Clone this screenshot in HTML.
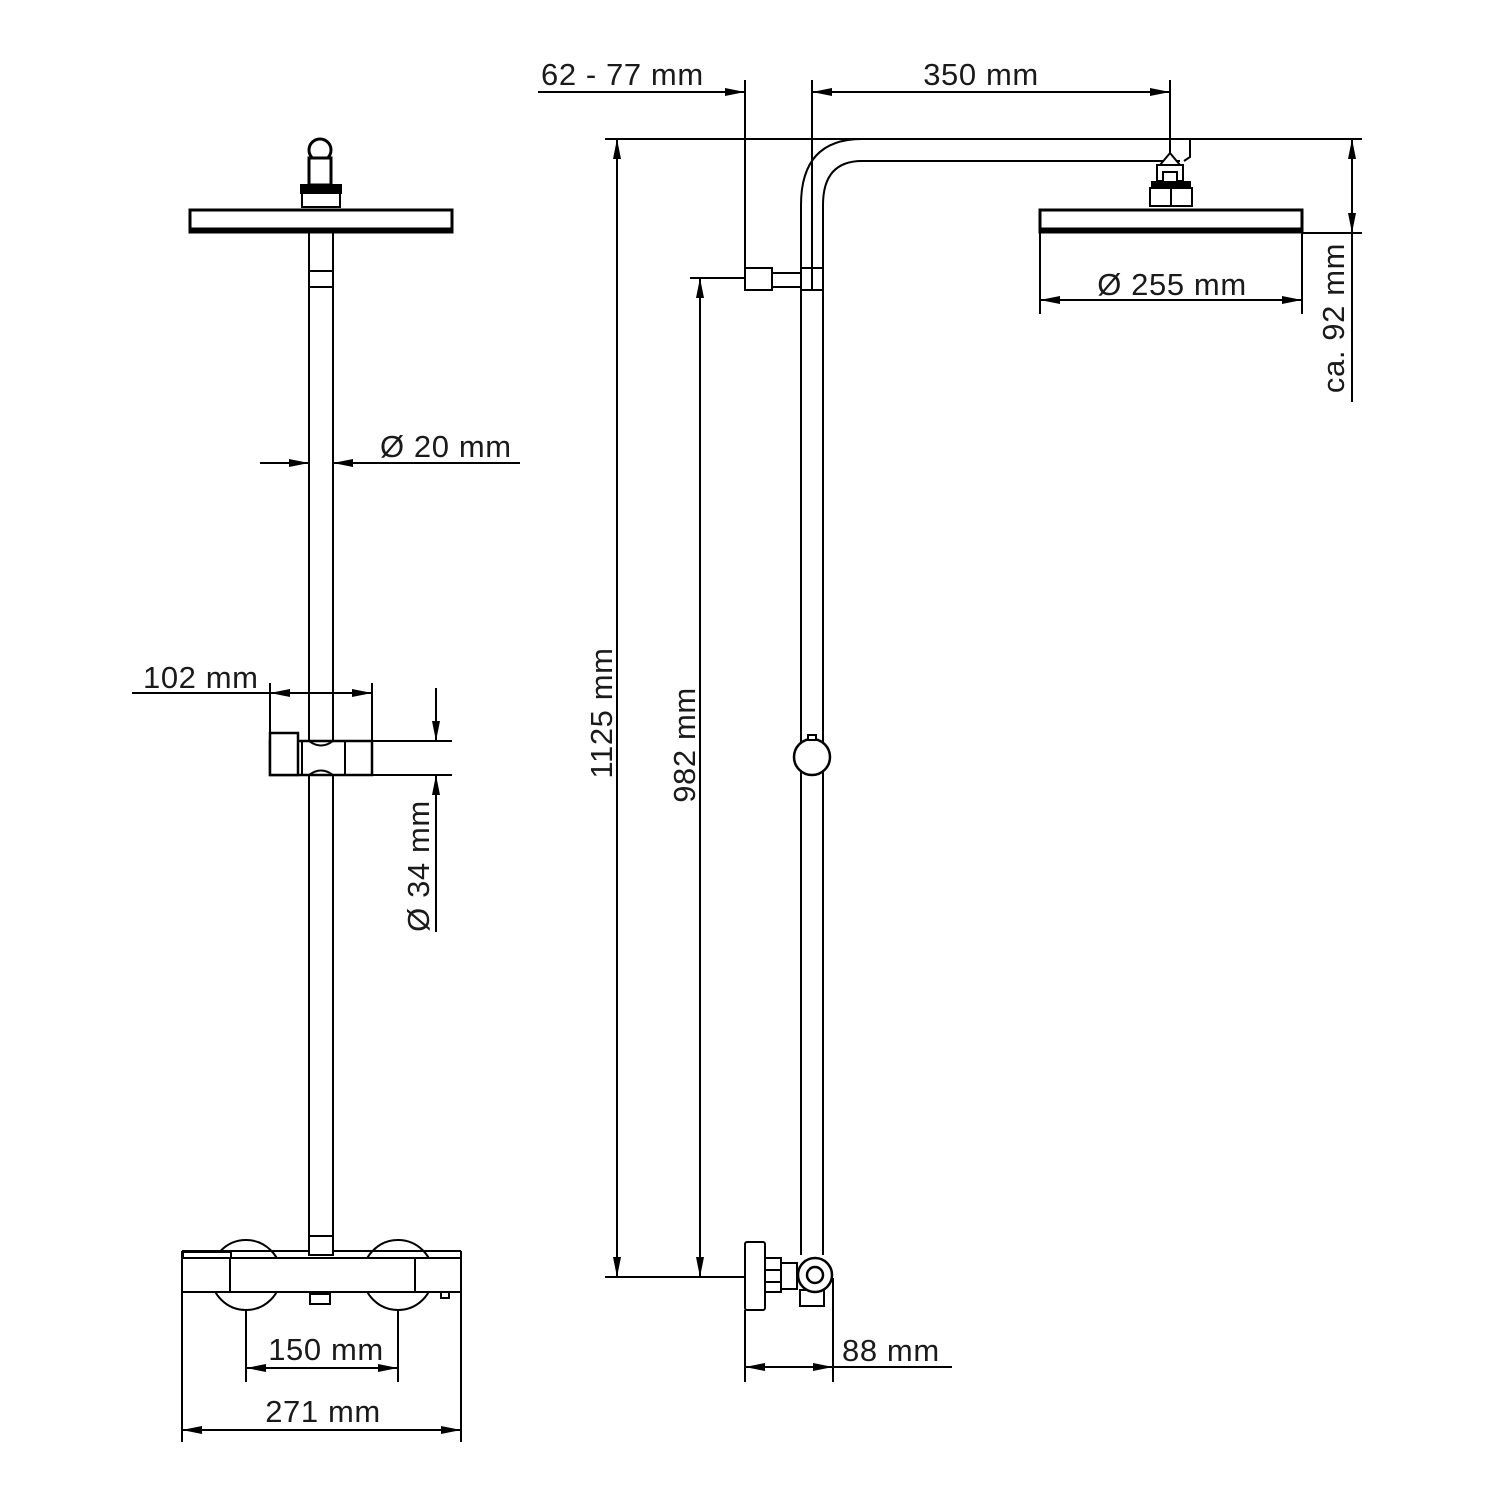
<!DOCTYPE html>
<html><head><meta charset="utf-8"><style>
html,body{margin:0;padding:0;background:#fff;}
svg{display:block;}
text{font-family:"Liberation Sans",sans-serif;font-size:31px;letter-spacing:0.6px;fill:#1a1a1a;}
</style></head><body>
<svg width="1500" height="1500" viewBox="0 0 1500 1500" xmlns="http://www.w3.org/2000/svg">
<defs>
<marker id="a" viewBox="0 0 20 8" refX="20" refY="4" markerWidth="20" markerHeight="8" orient="auto-start-reverse" markerUnits="userSpaceOnUse">
<path d="M0,0 L20,4 L0,8 Z" fill="#000"/></marker>
</defs>
<g stroke="#000" stroke-width="2" fill="none">
<circle cx="320" cy="150" r="11" fill="#fff" stroke-width="3"/>
<rect x="309" y="158" width="22" height="27" fill="#fff" stroke-width="3"/>
<rect x="301" y="185" width="40" height="8" fill="#000"/>
<rect x="302" y="193" width="38" height="14" fill="#fff"/>
<rect x="190" y="210" width="262" height="22" fill="#fff" stroke-width="3"/>
<line x1="191" y1="230" x2="451" y2="230" stroke-width="5"/>
<line x1="309" y1="233" x2="309" y2="1255"/>
<line x1="333" y1="233" x2="333" y2="1255"/>
<line x1="309" y1="271" x2="333" y2="271"/>
<line x1="309" y1="287" x2="333" y2="287"/>
<line x1="260" y1="463" x2="309" y2="463" marker-end="url(#a)"/>
<line x1="520" y1="463" x2="333" y2="463" marker-end="url(#a)"/>
<line x1="132" y1="693" x2="270" y2="693"/>
<line x1="270" y1="693" x2="372" y2="693" marker-start="url(#a)" marker-end="url(#a)"/>
<line x1="270" y1="683" x2="270" y2="775"/>
<line x1="372" y1="683" x2="372" y2="775"/>
<rect x="270" y="741" width="102" height="34" fill="#fff" stroke-width="2.5"/>
<rect x="270" y="733" width="28" height="42" fill="#fff" stroke-width="2.5"/>
<line x1="302" y1="741" x2="302" y2="775"/>
<line x1="345" y1="741" x2="345" y2="775"/>
<path d="M309,741 Q321,750 333,741"/>
<path d="M309,775 Q321,766 333,775"/>
<line x1="372" y1="741" x2="452" y2="741"/>
<line x1="372" y1="775" x2="452" y2="775"/>
<line x1="436" y1="688" x2="436" y2="741" marker-end="url(#a)"/>
<line x1="436" y1="932" x2="436" y2="775" marker-end="url(#a)"/>
<circle cx="246" cy="1275" r="35" fill="#fff"/>
<circle cx="398" cy="1275" r="35" fill="#fff"/>
<rect x="182" y="1258" width="279" height="34" fill="#fff"/>
<line x1="182" y1="1251" x2="461" y2="1251"/>
<line x1="182" y1="1251" x2="182" y2="1258"/><line x1="461" y1="1251" x2="461" y2="1258"/>
<rect x="183" y="1252" width="48" height="6" fill="#fff"/>
<line x1="230" y1="1258" x2="230" y2="1292"/>
<line x1="415" y1="1258" x2="415" y2="1292"/>
<rect x="310" y="1294" width="20" height="10" fill="#fff"/>
<rect x="441" y="1292" width="8" height="6"/>
<rect x="309" y="1236" width="24" height="19" fill="#fff"/>
<line x1="246" y1="1310" x2="246" y2="1382"/>
<line x1="398" y1="1310" x2="398" y2="1382"/>
<line x1="246" y1="1368" x2="398" y2="1368" marker-start="url(#a)" marker-end="url(#a)"/>
<line x1="182" y1="1292" x2="182" y2="1442"/>
<line x1="461" y1="1292" x2="461" y2="1442"/>
<line x1="182" y1="1430" x2="461" y2="1430" marker-start="url(#a)" marker-end="url(#a)"/>

<line x1="538" y1="92" x2="745" y2="92" marker-end="url(#a)"/>
<line x1="812" y1="92" x2="1170" y2="92" marker-start="url(#a)" marker-end="url(#a)"/>
<line x1="745" y1="80" x2="745" y2="285"/>
<line x1="812" y1="80" x2="812" y2="268"/>
<line x1="1170" y1="80" x2="1170" y2="153"/>
<line x1="605" y1="139" x2="1362" y2="139"/>
<path d="M801,1255 L801,205 Q801,139 862,139"/>
<path d="M823,1255 L823,205 Q823,161 862,161 L1180,161"/>
<path d="M1190,139 L1190,157 L1184,161"/>
<rect x="745" y="268" width="27" height="22" fill="#fff"/>
<rect x="772" y="273" width="29" height="14" fill="#fff"/>
<rect x="801" y="268" width="22" height="22" fill="#fff"/>
<line x1="812" y1="268" x2="812" y2="290"/>
<circle cx="812" cy="757" r="18" fill="#fff" stroke-width="2.5"/>
<rect x="808" y="735" width="8" height="5" fill="#fff"/>
<path d="M1160,165 L1170,153 L1180,165 Z" fill="#fff"/>
<rect x="1157" y="165" width="26" height="16" fill="#fff"/>
<rect x="1163" y="172" width="14" height="10" fill="#fff"/>
<rect x="1152" y="182" width="38" height="6" fill="#000"/>
<rect x="1150" y="188" width="42" height="18" fill="#fff"/>
<line x1="1171" y1="188" x2="1171" y2="206"/>
<rect x="1040" y="210" width="262" height="22" fill="#fff" stroke-width="3"/>
<line x1="1041" y1="230" x2="1301" y2="230" stroke-width="5"/>
<line x1="1302" y1="233" x2="1362" y2="233"/>
<line x1="1352" y1="139" x2="1352" y2="233" marker-start="url(#a)" marker-end="url(#a)"/>
<line x1="1352" y1="233" x2="1352" y2="402"/>
<line x1="1040" y1="233" x2="1040" y2="314"/>
<line x1="1302" y1="233" x2="1302" y2="314"/>
<line x1="1040" y1="300" x2="1302" y2="300" marker-start="url(#a)" marker-end="url(#a)"/>
<line x1="617" y1="139" x2="617" y2="1277" marker-start="url(#a)" marker-end="url(#a)"/>
<line x1="690" y1="278" x2="745" y2="278"/>
<line x1="700" y1="278" x2="700" y2="1277" marker-start="url(#a)" marker-end="url(#a)"/>
<line x1="605" y1="1277" x2="745" y2="1277"/>
<rect x="745" y="1242" width="20" height="68" rx="2" fill="#fff"/>
<rect x="765" y="1258" width="16" height="34" fill="#fff"/>
<line x1="765" y1="1270" x2="781" y2="1270"/><line x1="765" y1="1282" x2="781" y2="1282"/>
<rect x="781" y="1263" width="16" height="26" fill="#fff"/>
<rect x="800" y="1290" width="24" height="16" fill="#fff"/>
<circle cx="815" cy="1275" r="17" fill="#fff" stroke-width="2.5"/>
<circle cx="815" cy="1275" r="8" fill="#fff" stroke-width="2.5"/>
<line x1="745" y1="1310" x2="745" y2="1382"/>
<line x1="833" y1="1278" x2="833" y2="1382"/>
<line x1="745" y1="1367" x2="833" y2="1367" marker-start="url(#a)" marker-end="url(#a)"/>
<line x1="833" y1="1367" x2="952" y2="1367"/>
</g>
<text x="380" y="457">Ø 20 mm</text>
<text x="143" y="688">102 mm</text>
<text x="429" y="866" transform="rotate(-90 429 866)" text-anchor="middle">Ø 34 mm</text>
<text x="326" y="1360" text-anchor="middle">150 mm</text>
<text x="323" y="1422" text-anchor="middle">271 mm</text>
<text x="541" y="85">62 - 77 mm</text>
<text x="981" y="85" text-anchor="middle">350 mm</text>
<text x="1172" y="295" text-anchor="middle">Ø 255 mm</text>
<text x="1344" y="318" transform="rotate(-90 1344 318)" text-anchor="middle">ca. 92 mm</text>
<text x="612" y="713" transform="rotate(-90 612 713)" text-anchor="middle">1125 mm</text>
<text x="695" y="745" transform="rotate(-90 695 745)" text-anchor="middle">982 mm</text>
<text x="842" y="1361">88 mm</text>
</svg>
</body></html>
